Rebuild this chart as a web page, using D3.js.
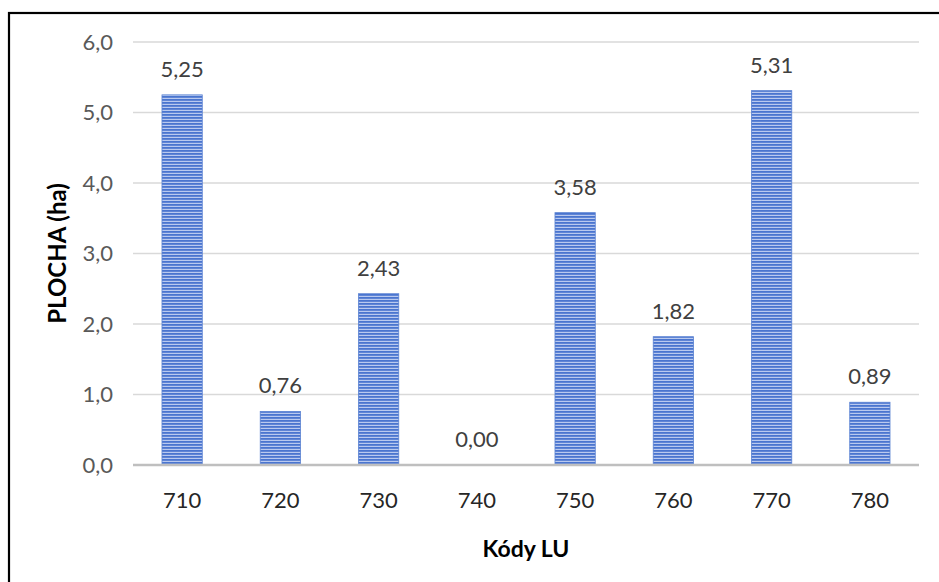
<!DOCTYPE html>
<html>
<head>
<meta charset="utf-8">
<script src="https://cdn.jsdelivr.net/npm/d3@7"></script>
<style>
  html, body { margin: 0; padding: 0; background: #fff; }
  svg { display: block; }
</style>
</head>
<body>
<svg id="chart" width="939" height="582"></svg>
<script>
// Land-use codes and their areas (ha)
const categories = ["710", "720", "730", "740", "750", "760", "770", "780"];
const values = [5.25, 0.76, 2.43, 0.00, 3.58, 1.82, 5.31, 0.89];
const yTicks = [0, 1, 2, 3, 4, 5, 6];
const xTitle = "Kódy LU";
const yTitle = "PLOCHA (ha)";

const W = 939, H = 582;
const margin = { left: 133, right: 20, top: 42, bottom: 117 };
const svg = d3.select("#chart");
const font = "Lato, 'Open Sans', sans-serif";
const comma = v => d3.format(".1f")(v).replace(".", ",");
const comma2 = v => d3.format(".2f")(v).replace(".", ",");

// Outer frame
svg.append("rect")
  .attr("x", 9).attr("y", 13)
  .attr("width", W).attr("height", H)
  .attr("fill", "none").attr("stroke", "#000").attr("stroke-width", 2.2);

// Striped fill for the bars
const defs = svg.append("defs");
const pat = defs.append("pattern")
  .attr("id", "stripes")
  .attr("patternUnits", "userSpaceOnUse")
  .attr("width", 8).attr("height", 3);
pat.append("rect").attr("width", 8).attr("height", 3).attr("fill", "#b9c9ef");
pat.append("rect").attr("width", 8).attr("height", 1.8).attr("fill", "#4a75cf");

const x = d3.scaleBand()
  .domain(categories)
  .range([margin.left, W - margin.right])
  .paddingInner(0.59).paddingOuter(0.295);

const y = d3.scaleLinear()
  .domain([0, 6])
  .range([H - margin.bottom, margin.top]);

// Gridlines
svg.append("g")
  .selectAll("line")
  .data(yTicks.filter(d => d > 0))
  .join("line")
  .attr("x1", margin.left).attr("x2", W - margin.right)
  .attr("y1", d => y(d)).attr("y2", d => y(d))
  .attr("stroke", "#d9d9d9").attr("stroke-width", 1.3);

// Y axis labels
const yAxis = d3.axisLeft(y).tickValues(yTicks).tickFormat(comma).tickSize(0).tickPadding(20);
const gy = svg.append("g").attr("transform", `translate(${margin.left},0)`).call(yAxis);
gy.select(".domain").remove();
gy.selectAll("text")
  .attr("fill", "#595959")
  .style("font-family", font).style("font-size", "22px");

// Bars
svg.append("g")
  .selectAll("rect")
  .data(values)
  .join("rect")
  .attr("x", (d, i) => x(categories[i]))
  .attr("y", d => y(d))
  .attr("width", x.bandwidth())
  .attr("height", d => y(0) - y(d))
  .attr("fill", "url(#stripes)")
  .attr("stroke", "#5a82d2").attr("stroke-width", 0.8);

// Value labels
svg.append("g")
  .selectAll("text")
  .data(values)
  .join("text")
  .attr("x", (d, i) => x(categories[i]) + x.bandwidth() / 2)
  .attr("y", d => y(d) - 18)
  .attr("text-anchor", "middle")
  .attr("fill", "#404040")
  .style("font-family", font).style("font-size", "22px")
  .text(d => comma2(d));

// X axis
const xAxis = d3.axisBottom(x).tickSize(0).tickPadding(27);
const gx = svg.append("g").attr("transform", `translate(0,${y(0)})`).call(xAxis);
gx.select(".domain").remove();
gx.selectAll("text")
  .attr("fill", "#262626")
  .style("font-family", font).style("font-size", "22px");
svg.append("line")
  .attr("x1", margin.left).attr("x2", W - margin.right)
  .attr("y1", y(0)).attr("y2", y(0))
  .attr("stroke", "#bfbfbf").attr("stroke-width", 2.6);

// Axis titles
svg.append("text")
  .attr("x", (margin.left + W - margin.right) / 2)
  .attr("y", 557)
  .attr("text-anchor", "middle")
  .attr("fill", "#000")
  .style("font-family", font).style("font-size", "23px").style("font-weight", "bold")
  .text(xTitle);

svg.append("text")
  .attr("transform", `translate(66,${(y(0) + y(6)) / 2}) rotate(-90)`)
  .attr("text-anchor", "middle")
  .attr("fill", "#000")
  .style("font-family", font).style("font-size", "24px").style("font-weight", "bold")
  .text(yTitle);
</script>
</body>
</html>
